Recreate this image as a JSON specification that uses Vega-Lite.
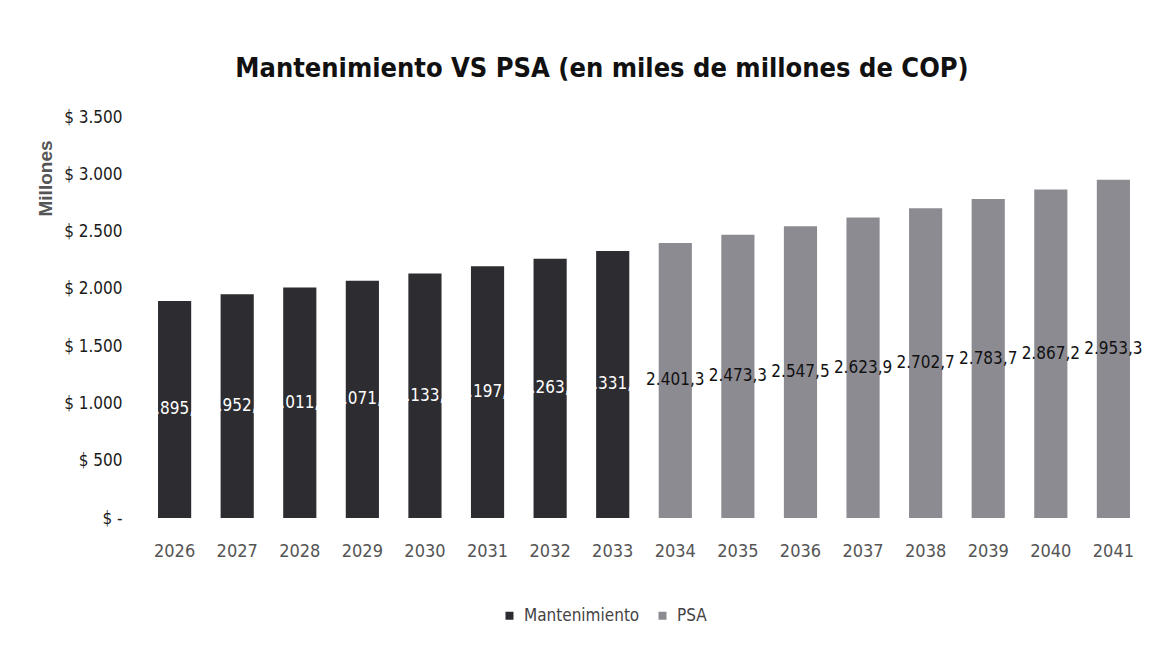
{
  "$schema": "https://vega.github.io/schema/vega-lite/v6.json",
  "width": 1002,
  "height": 401,
  "autosize": "none",
  "padding": {"left": 143, "top": 117, "right": 25, "bottom": 144},
  "background": "white",
  "title": {
    "text": "Mantenimiento VS PSA (en miles de millones de COP)",
    "font": "DejaVu Sans Condensed, Liberation Sans, sans-serif",
    "fontSize": 27,
    "fontWeight": "bold",
    "color": "#111111",
    "anchor": "middle",
    "dx": -42,
    "offset": 25
  },
  "data": {
    "values": [
      {"year": "2026", "series": "Mantenimiento", "value": 1895, "label": ".895,"},
      {"year": "2027", "series": "Mantenimiento", "value": 1952, "label": ".952,"},
      {"year": "2028", "series": "Mantenimiento", "value": 2011, "label": ".011,"},
      {"year": "2029", "series": "Mantenimiento", "value": 2071, "label": ".071,"},
      {"year": "2030", "series": "Mantenimiento", "value": 2133, "label": ".133,"},
      {"year": "2031", "series": "Mantenimiento", "value": 2197, "label": ".197,"},
      {"year": "2032", "series": "Mantenimiento", "value": 2263, "label": ".263,"},
      {"year": "2033", "series": "Mantenimiento", "value": 2331, "label": ".331,"},
      {"year": "2034", "series": "PSA", "value": 2401.3, "label": "2.401,3"},
      {"year": "2035", "series": "PSA", "value": 2473.3, "label": "2.473,3"},
      {"year": "2036", "series": "PSA", "value": 2547.5, "label": "2.547,5"},
      {"year": "2037", "series": "PSA", "value": 2623.9, "label": "2.623,9"},
      {"year": "2038", "series": "PSA", "value": 2702.7, "label": "2.702,7"},
      {"year": "2039", "series": "PSA", "value": 2783.7, "label": "2.783,7"},
      {"year": "2040", "series": "PSA", "value": 2867.2, "label": "2.867,2"},
      {"year": "2041", "series": "PSA", "value": 2953.3, "label": "2.953,3"}
    ]
  },
  "layer": [
    {
      "mark": {"type": "bar"},
      "encoding": {
        "x": {
          "field": "year",
          "type": "ordinal",
          "scale": {"paddingInner": 0.47, "paddingOuter": 0.24},
          "axis": {
            "title": null,
            "labelAngle": 0,
            "domain": false,
            "ticks": false,
            "labelFont": "DejaVu Sans Condensed, Liberation Sans, sans-serif",
            "labelFontSize": 18,
            "labelColor": "#555555",
            "labelPadding": 24
          }
        },
        "y": {
          "field": "value",
          "type": "quantitative",
          "scale": {"domain": [0, 3500]},
          "axis": {
            "values": [0, 500, 1000, 1500, 2000, 2500, 3000, 3500],
            "labelExpr": "datum.value == 0 ? '$ -' : '$ ' + replace(format(datum.value, ',.0f'), ',', '.')",
            "grid": false,
            "domain": false,
            "ticks": false,
            "labelFont": "DejaVu Sans Condensed, Liberation Sans, sans-serif",
            "labelFontSize": 17,
            "labelColor": "#1a1a1a",
            "labelPadding": 21,
            "title": "Millones",
            "titleFont": "Liberation Sans",
            "titleFontSize": 19,
            "titleFontWeight": "bold",
            "titleColor": "#555555",
            "titleAngle": -90,
            "titleAlign": "center",
            "titleBaseline": "middle",
            "titleX": -98,
            "titleY": 61
          }
        },
        "color": {
          "field": "series",
          "type": "nominal",
          "scale": {"domain": ["Mantenimiento", "PSA"], "range": ["#2d2c30", "#8d8b92"]},
          "legend": {
            "title": null,
            "orient": "none",
            "direction": "horizontal",
            "legendX": 358,
            "legendY": 490,
            "symbolType": "square",
            "symbolSize": 64,
            "symbolStrokeWidth": 0,
            "labelFont": "DejaVu Sans Condensed, Liberation Sans, sans-serif",
            "labelFontSize": 17,
            "labelColor": "#444444",
            "labelOffset": 6,
            "columnPadding": 14
          }
        }
      }
    },
    {
      "mark": {"type": "text", "font": "DejaVu Sans Condensed, Liberation Sans, sans-serif", "fontSize": 17, "baseline": "middle", "align": "center"},
      "encoding": {
        "x": {"field": "year", "type": "ordinal"},
        "y": {"field": "value", "type": "quantitative", "scale": {"domain": [0, 7000]}, "axis": null},
        "text": {"field": "label"},
        "fill": {
          "field": "series",
          "type": "nominal",
          "scale": {"domain": ["Mantenimiento", "PSA"], "range": ["#ffffff", "#111111"]},
          "legend": null
        }
      }
    }
  ],
  "resolve": {"scale": {"y": "independent"}},
  "config": {"view": {"stroke": null}}
}
